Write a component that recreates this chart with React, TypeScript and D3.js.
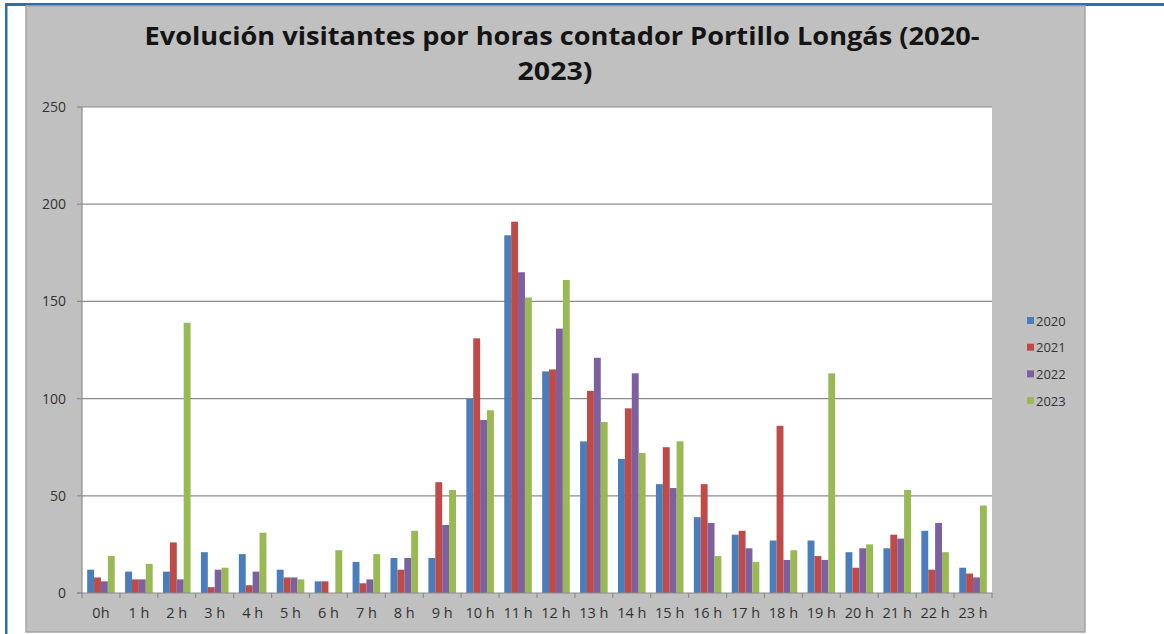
import React from "react";
import * as d3 from "d3";

const hours = ["0h","1 h","2 h","3 h","4 h","5 h","6 h","7 h","8 h","9 h","10 h","11 h","12 h","13 h","14 h","15 h","16 h","17 h","18 h","19 h","20 h","21 h","22 h","23 h"];
const years = ["2020","2021","2022","2023"];
const v2020 = [12,11,11,21,20,12,6,16,18,18,100,184,114,78,69,56,39,30,27,27,21,23,32,13];
const v2021 = [8,7,26,3,4,8,6,5,12,57,131,191,115,104,95,75,56,32,86,19,13,30,12,10];
const v2022 = [6,7,7,12,11,8,0,7,18,35,89,165,136,121,113,54,36,23,17,17,23,28,36,8];
const v2023 = [19,15,139,13,31,7,22,20,32,53,94,152,161,88,72,78,19,16,22,113,25,53,21,45];
const yTicks = [0,50,100,150,200,250];
const colors = ["#4a7ebb","#be4b48","#7d60a0","#98b954"];
const series = [v2020, v2021, v2022, v2023];

export default function App() {
  const W = 1164, H = 634;
  const left = 82, right = 992, top = 107, bottom = 593;
  const x = d3.scaleBand<string>().domain(hours).range([left, right]).paddingInner(0).paddingOuter(0);
  const y = d3.scaleLinear().domain([0, 250]).range([bottom, top]);
  const bw = x.bandwidth();
  const barW = bw / 5.5;
  const groupOff = (bw - barW * 4) / 2;
  const font = "'Open Sans', 'DejaVu Sans', sans-serif";
  return (
    <svg width={W} height={H} style={{ position: "absolute", left: 0, top: 0, background: "#fff" }}>
      {/* outer blue frame */}
      <rect x={5} y={3} width={W - 5} height={3} fill="#2f6db3" />
      <rect x={5} y={3} width={2.5} height={H - 3} fill="#2f6db3" />
      {/* chart area */}
      <rect x={26} y={6} width={1059} height={626} fill="#c0c0c0" stroke="#a5a5a5" strokeWidth={1.5} />
      {/* title */}
      <text x={562} y={45} textAnchor="middle" fontFamily={font} fontWeight={700} fontSize={24.5}
        fill="#141414" textLength={835} lengthAdjust="spacingAndGlyphs">
        Evolución visitantes por horas contador Portillo Longás (2020-
      </text>
      <text x={555} y={80} textAnchor="middle" fontFamily={font} fontWeight={700} fontSize={24.5}
        fill="#141414" textLength={75} lengthAdjust="spacingAndGlyphs">
        2023)
      </text>
      {/* plot area */}
      <rect x={left} y={top} width={right - left} height={bottom - top} fill="#ffffff" />
      {yTicks.map((t) => (
        <g key={t}>
          {t > 0 && <line x1={left} x2={right} y1={y(t)} y2={y(t)} stroke="#8c8c8c" strokeWidth={1.2} />}
          <line x1={left - 5} x2={left} y1={y(t)} y2={y(t)} stroke="#8c8c8c" strokeWidth={1.2} />
          <text x={66} y={y(t)} dy="0.35em" textAnchor="end" fontFamily={font} fontSize={14} fill="#333">{t}</text>
        </g>
      ))}
      {/* bars */}
      {series.map((vals, si) => (
        <g key={years[si]}>
          {vals.map((v, i) => (
            <rect key={i} x={(x(hours[i]) as number) + groupOff + si * barW} y={y(v)}
              width={barW} height={bottom - y(v)} fill={colors[si]} />
          ))}
        </g>
      ))}
      {/* axes */}
      <line x1={left} x2={left} y1={top} y2={bottom} stroke="#8c8c8c" strokeWidth={1.2} />
      <line x1={left - 5} x2={right} y1={bottom} y2={bottom} stroke="#8c8c8c" strokeWidth={1.2} />
      {d3.range(hours.length + 1).map((k) => (
        <line key={k} x1={left + k * bw} x2={left + k * bw} y1={bottom} y2={bottom + 5} stroke="#8c8c8c" strokeWidth={1.2} />
      ))}
      {hours.map((h) => (
        <text key={h} x={(x(h) as number) + bw / 2} y={618} textAnchor="middle" fontFamily={font}
          fontSize={14.5} fill="#333">{h}</text>
      ))}
      {/* legend */}
      {years.map((yr, i) => (
        <g key={yr}>
          <rect x={1027} y={317 + i * 26.7} width={7} height={7} fill={colors[i]} />
          <text x={1036} y={321 + i * 26.7} dy="0.35em" fontFamily={font} fontSize={13} fill="#333">{yr}</text>
        </g>
      ))}
    </svg>
  );
}
